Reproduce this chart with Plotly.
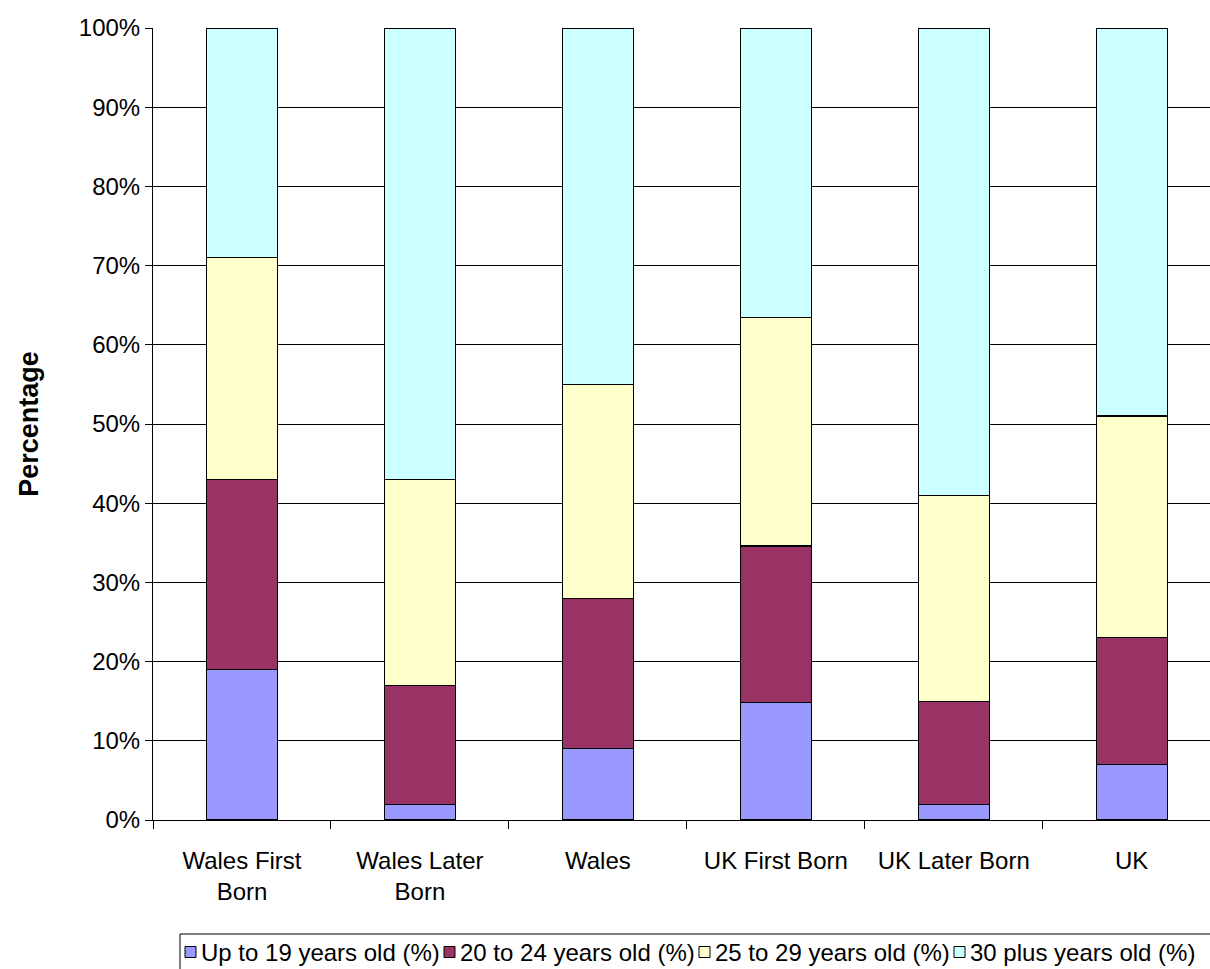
import plotly.graph_objects as go

# Age of mother at birth, share of births by age band
categories = ["Wales First<br>Born", "Wales Later<br>Born", "Wales",
              "UK First Born", "UK Later Born", "UK"]
up_to_19 = [19, 2, 9, 14.8, 2, 7]
age_20_24 = [24, 15, 19, 19.8, 13, 16]
age_25_29 = [28, 26, 27, 28.8, 26, 28]
age_30_plus = [29, 57, 45, 36.6, 59, 49]

series_names = ["Up to 19 years old (%)", "20 to 24 years old (%)",
                "25 to 29 years old (%)", "30 plus years old (%)"]
series_values = [up_to_19, age_20_24, age_25_29, age_30_plus]
series_colors = ["#9999FF", "#993366", "#FFFFCC", "#CCFFFF"]

FONT = "Liberation Sans, Arial, sans-serif"
W, H = 1210, 969
ML, MT, MB = 153, 28, 149
PLOT_W = W - ML
PLOT_H = H - MT - MB


def px_x(x):
    """Pixel column -> paper x."""
    return (x - ML) / PLOT_W


def px_y(y):
    """Pixel row -> paper y."""
    return (H - MB - y) / PLOT_H


fig = go.Figure()
for name, vals, color in zip(series_names, series_values, series_colors):
    fig.add_trace(go.Bar(
        x=categories, y=vals, name=name, showlegend=False,
        marker=dict(color=color, line=dict(color="black", width=1.2)),
    ))

# Legend row along the bottom: boxed, small outlined swatches next to labels
LEG_TOP, LEG_LEFT = 934, 180
LEG_MID = 952
SW = 11
swatch_left = [185, 444, 699, 954]
shapes = [dict(type="rect", xref="paper", yref="paper",
               x0=px_x(LEG_LEFT), x1=px_x(W + 10),
               y0=px_y(LEG_TOP), y1=px_y(H + 10),
               line=dict(color="black", width=1), fillcolor="white", layer="above")]
annotations = []
for left, name, color in zip(swatch_left, series_names, series_colors):
    shapes.append(dict(type="rect", xref="paper", yref="paper",
                       x0=px_x(left), x1=px_x(left + SW),
                       y0=px_y(LEG_MID - SW / 2), y1=px_y(LEG_MID + SW / 2),
                       line=dict(color="black", width=1), fillcolor=color,
                       layer="above"))
    annotations.append(dict(text=name, xref="paper", yref="paper",
                            x=px_x(left + SW + 3), y=px_y(LEG_MID),
                            xanchor="left", yanchor="middle", showarrow=False,
                            font=dict(family=FONT, size=24, color="black")))

fig.update_layout(
    width=W, height=H,
    barmode="stack", bargap=0.6,
    paper_bgcolor="white", plot_bgcolor="white",
    margin=dict(l=ML, r=0, t=MT, b=MB, autoexpand=False),
    font=dict(family=FONT, size=24, color="black"),
    showlegend=False,
    shapes=shapes,
    annotations=annotations,
)

fig.update_xaxes(
    type="category", range=[-0.5, 5.44],
    showline=True, linecolor="black", linewidth=1,
    ticks="outside", tickson="boundaries", ticklen=8, tickcolor="black",
    showgrid=False, tickfont=dict(size=24), ticklabelstandoff=19,
)
fig.update_yaxes(
    range=[0, 100], dtick=10, ticksuffix="%",
    showline=True, linecolor="black", linewidth=1,
    ticks="outside", ticklen=7, tickcolor="black",
    showgrid=True, gridcolor="black", gridwidth=1,
    tickfont=dict(size=24),
    title=dict(text="<b>Percentage</b>", font=dict(size=27), standoff=32),
    zeroline=False,
)

fig.write_html("out.html")
